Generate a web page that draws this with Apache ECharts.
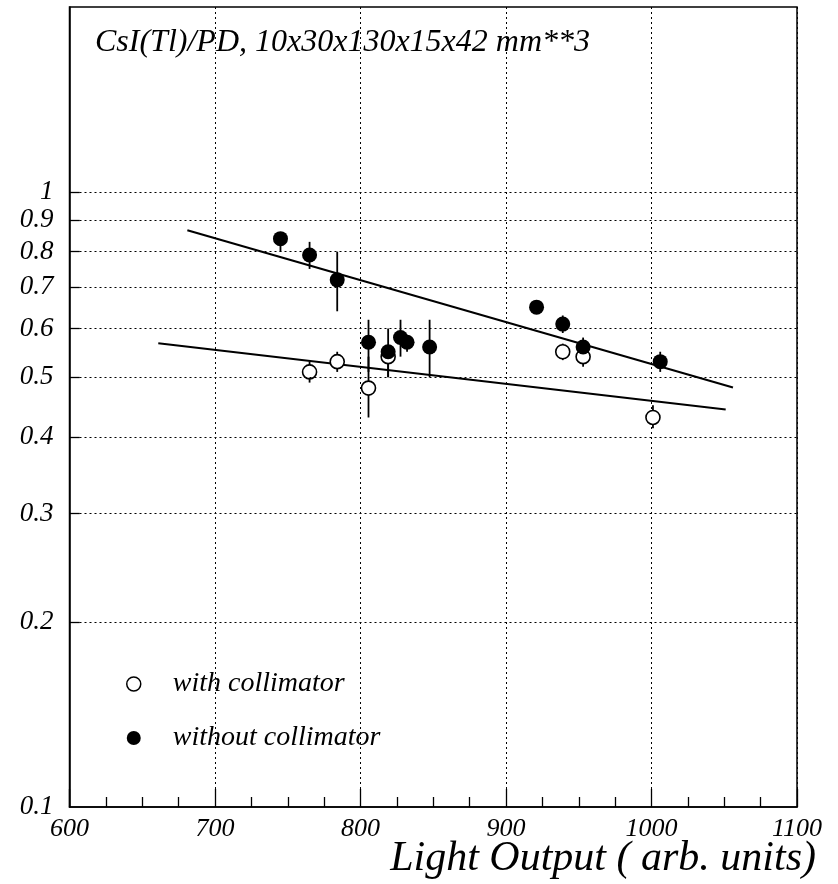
<!DOCTYPE html>
<html>
<head>
<meta charset="utf-8">
<script src="https://cdn.jsdelivr.net/npm/echarts@6/dist/echarts.min.js"></script>
<style>
  html, body { margin: 0; padding: 0; background: #fff; }
  #chart { width: 838px; height: 884px; }
</style>
</head>
<body>
<div id="chart"></div>
<script>
// Resolution vs. light output, CsI(Tl) crystal with photodiode readout

// Measurements with collimator (open circles)
const withCollX  = [765, 784, 805.5, 819, 939, 953, 1001];
const withCollY  = [0.51, 0.53, 0.48, 0.54, 0.55, 0.54, 0.43];
const withCollLo = [0.49, 0.51, 0.43, 0.50, 0.533, 0.52, 0.413];
const withCollHi = [0.53, 0.55, 0.54, 0.55, 0.567, 0.55, 0.45];

// Measurements without collimator (filled circles)
const withoutCollX  = [745, 765, 784, 805.5, 819, 827.5, 832, 847.5, 921, 939, 953, 1006];
const withoutCollY  = [0.84, 0.79, 0.72, 0.57, 0.55, 0.58, 0.57, 0.56, 0.65, 0.61, 0.56, 0.53];
const withoutCollLo = [0.80, 0.75, 0.64, 0.51, 0.50, 0.54, 0.55, 0.50, 0.635, 0.59, 0.545, 0.51];
const withoutCollHi = [0.86, 0.83, 0.80, 0.62, 0.60, 0.62, 0.585, 0.62, 0.665, 0.63, 0.58, 0.55];

// Fitted trends (end points)
const fitWithX    = [661, 1051];
const fitWithY    = [0.568, 0.443];
const fitWithoutX = [681, 1056];
const fitWithoutY = [0.867, 0.481];

// Axes
const xMin = 600, xMax = 1100, xStep = 100;
const yMin = 0.1, yMax = 2;
const yTickValues = [0.1, 0.2, 0.3, 0.4, 0.5, 0.6, 0.7, 0.8, 0.9, 1];
const yTickLabels = ['0.1', '0.2', '0.3', '0.4', '0.5', '0.6', '0.7', '0.8', '0.9', '1'];

const serif = '"Liberation Serif", "Times New Roman", serif';
const italic = { fontFamily: serif, fontStyle: 'italic', fontWeight: 'normal', color: '#000' };

function pairs(xs, ys) { return xs.map((x, i) => [x, ys[i]]); }

function errorBars(name, xs, lo, hi) {
  return {
    type: 'custom',
    name: name,
    silent: true,
    z: 2,
    data: xs.map((x, i) => [x, lo[i], hi[i]]),
    encode: { x: 0, y: [1, 2] },
    renderItem: function (params, api) {
      const a = api.coord([api.value(0), api.value(1)]);
      const b = api.coord([api.value(0), api.value(2)]);
      return {
        type: 'line',
        shape: { x1: a[0], y1: a[1], x2: b[0], y2: b[1] },
        style: { stroke: '#000', lineWidth: 1.8 }
      };
    }
  };
}

// Dotted horizontal grid + labels + short solid ticks on the log axis
const tickLen = 7; // in x units
const yGuideData = [];
yTickValues.forEach((v, i) => {
  yGuideData.push({
    yAxis: v,
    lineStyle: v === yMin ? { color: 'rgba(0,0,0,0)' } : undefined,
    label: { formatter: yTickLabels[i] }
  });
});
yTickValues.forEach((v) => {
  if (v === yMin) return;
  yGuideData.push([
    { coord: [xMin, v], lineStyle: { type: 'solid', width: 1.3 }, label: { show: false } },
    { coord: [xMin + tickLen, v] }
  ]);
});

const chart = echarts.init(document.getElementById('chart'), null, { renderer: 'canvas' });

chart.setOption({
  animation: false,
  backgroundColor: '#fff',
  title: [
    {
      text: 'CsI(Tl)/PD, 10x30x130x15x42 mm**3',
      left: 95, top: 27, padding: 0,
      textStyle: Object.assign({ fontSize: 32 }, italic)
    },
    {
      text: 'Light Output ( arb. units)',
      right: 22, top: 838, padding: 0,
      textStyle: Object.assign({ fontSize: 42 }, italic)
    }
  ],
  legend: {
    orient: 'vertical',
    left: 126, top: 670,
    padding: 0,
    itemWidth: 14, itemHeight: 14,
    itemGap: 26,
    selectedMode: false,
    data: [
      { name: 'with collimator', icon: 'circle', itemStyle: { color: '#fff', borderColor: '#000', borderWidth: 1.5 } },
      { name: 'without collimator', icon: 'circle', itemStyle: { color: '#000', borderColor: '#000', borderWidth: 0 } }
    ],
    textStyle: Object.assign({ fontSize: 28, padding: [0, 0, 0, 27] }, italic)
  },
  grid: {
    left: 69.5, right: 41, top: 7, bottom: 77,
    show: true, borderColor: '#000', borderWidth: 1.5,
    containLabel: false
  },
  xAxis: {
    type: 'value',
    min: xMin, max: xMax, interval: xStep,
    axisLine: { show: true, lineStyle: { color: '#000', width: 1.5 } },
    axisTick: { show: true, inside: true, length: 18, lineStyle: { color: '#000', width: 1.3 } },
    minorTick: { show: true, splitNumber: 4, length: 10, lineStyle: { color: '#000', width: 1.3 } },
    splitLine: { show: true, lineStyle: { color: '#000', type: [2, 3], width: 1 } },
    axisLabel: Object.assign({ margin: 9, fontSize: 26, formatter: (v) => String(v) }, italic)
  },
  yAxis: {
    type: 'log',
    logBase: 10,
    min: yMin, max: yMax,
    axisLine: { show: true, lineStyle: { color: '#000', width: 1.5 } },
    axisTick: { show: false },
    minorTick: { show: false },
    splitLine: { show: false },
    axisLabel: { show: false }
  },
  series: [
    {
      type: 'line',
      name: 'yGuides',
      data: [],
      silent: true,
      markLine: {
        silent: true,
        animation: false,
        symbol: ['none', 'none'],
        lineStyle: { color: '#000', type: [2, 3], width: 1 },
        label: Object.assign({ show: true, position: 'start', distance: 16, fontSize: 27 }, italic),
        emphasis: { disabled: true },
        data: yGuideData
      }
    },
    {
      type: 'line',
      name: 'fit with collimator',
      data: pairs(fitWithX, fitWithY),
      symbol: 'none',
      silent: true,
      lineStyle: { color: '#000', width: 2 },
      z: 1
    },
    {
      type: 'line',
      name: 'fit without collimator',
      data: pairs(fitWithoutX, fitWithoutY),
      symbol: 'none',
      silent: true,
      lineStyle: { color: '#000', width: 2 },
      z: 1
    },
    errorBars('err with collimator', withCollX, withCollLo, withCollHi),
    errorBars('err without collimator', withoutCollX, withoutCollLo, withoutCollHi),
    {
      type: 'scatter',
      name: 'with collimator',
      data: pairs(withCollX, withCollY),
      symbol: 'circle',
      symbolSize: 14,
      itemStyle: { color: '#fff', borderColor: '#000', borderWidth: 1.6, opacity: 1 },
      z: 3
    },
    {
      type: 'scatter',
      name: 'without collimator',
      data: pairs(withoutCollX, withoutCollY),
      symbol: 'circle',
      symbolSize: 15,
      itemStyle: { color: '#000', opacity: 1 },
      z: 4
    }
  ]
});
</script>
</body>
</html>
